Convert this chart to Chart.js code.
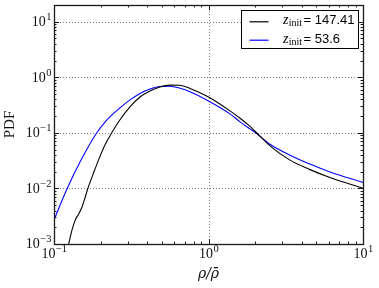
<!DOCTYPE html>
<html>
<head>
<meta charset="utf-8">
<script src="https://cdn.jsdelivr.net/npm/chart.js@4"></script>
<style>
html,body{margin:0;padding:0;background:#fff;}
#wrap{width:379px;height:288px;position:relative;}
</style>
</head>
<body>
<div id="wrap"><canvas id="c"></canvas></div>
<script>
// ---- data ----
const rhoBlack = [0.1245, 0.1308, 0.1374, 0.1445, 0.1518, 0.1594, 0.1652, 0.1807, 0.1994, 0.2148, 0.2349, 0.2674, 0.3103, 0.3603, 0.418, 0.4855, 0.5632, 0.654, 0.759, 1.0, 1.378, 1.60, 1.856, 2.0, 2.50, 3.37, 4.54, 6.11, 10];
const pdfBlack = [0.00101, 0.00179, 0.00272, 0.00348, 0.00464, 0.00702, 0.00975, 0.0193, 0.0389, 0.0625, 0.0972, 0.172, 0.294, 0.443, 0.568, 0.670, 0.724, 0.719, 0.630, 0.443, 0.249, 0.183, 0.131, 0.107, 0.0585, 0.0323, 0.0218, 0.0157, 0.01005];
const rhoBlue = [0.100, 0.1213, 0.1473, 0.1878, 0.2171, 0.2674, 0.3103, 0.3603, 0.418, 0.4855, 0.5632, 0.654, 0.759, 1.0, 1.378, 1.60, 1.856, 2.0, 2.50, 3.37, 4.54, 6.11, 10];
const pdfBlue = [0.00272, 0.00975, 0.0298, 0.0972, 0.165, 0.282, 0.392, 0.513, 0.617, 0.684, 0.690, 0.635, 0.552, 0.376, 0.220, 0.158, 0.118, 0.1025, 0.0625, 0.0397, 0.0274, 0.0197, 0.01285];
const zInit = [147.41, 53.6];
const seriesColors = ['#000000', '#0000ff'];
const xTickValues = [0.1, 1, 10];
const yTickValues = [0.001, 0.01, 0.1, 1, 10];
const xLimits = [0.1, 10];
const yLimits = [0.001, 20];
const xTitle = 'ρ/ρ̄';
const yTitle = 'PDF';

const toPts = (xs, ys) => xs.map((x, i) => ({x: x, y: ys[i]}));

function minorValues(lo, hi) {
  const out = [];
  for (let e = Math.floor(Math.log10(lo)); e <= Math.ceil(Math.log10(hi)); e++) {
    for (let k = 2; k <= 9; k++) {
      const v = k * Math.pow(10, e);
      if (v > lo * 1.0001 && v < hi * 0.9999) out.push(v);
    }
  }
  return out;
}

function expText(v) {
  const e = Math.round(Math.log10(v));
  return (e < 0 ? '−' : '') + Math.abs(e);
}

const MAIN_FONT = '14px "Liberation Serif", "DejaVu Serif", serif';
const EXP_FONT = '10.5px "Liberation Serif", "DejaVu Serif", serif';

const framePlugin = {
  id: 'frame',
  beforeDatasetsDraw(chart) {
    const {ctx, chartArea: a, scales: {x, y}} = chart;
    ctx.save();
    ctx.strokeStyle = 'rgba(0,0,0,0.5)';
    ctx.lineWidth = 1;
    ctx.setLineDash([1, 2]);
    xTickValues.forEach(v => {
      const p = Math.round(x.getPixelForValue(v)) + 0.5;
      ctx.beginPath(); ctx.moveTo(p, a.top); ctx.lineTo(p, a.bottom); ctx.stroke();
    });
    yTickValues.forEach(v => {
      const p = Math.round(y.getPixelForValue(v)) + 0.5;
      ctx.beginPath(); ctx.moveTo(a.left, p); ctx.lineTo(a.right, p); ctx.stroke();
    });
    ctx.restore();
  },
  afterDatasetsDraw(chart) {
    const {ctx, chartArea: a, scales: {x, y}} = chart;
    ctx.save();
    ctx.strokeStyle = '#1a1a1a';
    ctx.lineWidth = 1;
    const tick = (vals, len, isX) => {
      vals.forEach(v => {
        if (isX) {
          const p = Math.round(x.getPixelForValue(v)) + 0.5;
          ctx.beginPath(); ctx.moveTo(p, a.bottom); ctx.lineTo(p, a.bottom - len); ctx.stroke();
          ctx.beginPath(); ctx.moveTo(p, a.top); ctx.lineTo(p, a.top + len); ctx.stroke();
        } else {
          const p = Math.round(y.getPixelForValue(v)) + 0.5;
          ctx.beginPath(); ctx.moveTo(a.left, p); ctx.lineTo(a.left + len, p); ctx.stroke();
          ctx.beginPath(); ctx.moveTo(a.right, p); ctx.lineTo(a.right - len, p); ctx.stroke();
        }
      });
    };
    tick(xTickValues, 5, true);
    tick(minorValues(xLimits[0], xLimits[1]), 2.5, true);
    tick(yTickValues, 5, false);
    tick(minorValues(yLimits[0], yLimits[1]), 2.5, false);
    ctx.lineWidth = 1.3;
    ctx.strokeRect(Math.round(a.left) + 0.5, Math.round(a.top) + 0.5,
                   Math.round(a.right) - Math.round(a.left), Math.round(a.bottom) - Math.round(a.top));
    ctx.restore();
  },
  afterDraw(chart) {
    const {ctx, chartArea: a, scales: {x, y}} = chart;
    ctx.save();
    ctx.fillStyle = '#111';
    ctx.textBaseline = 'alphabetic';
    ctx.textAlign = 'left';
    // x tick labels
    x.ticks.forEach(t => {
      const p = x.getPixelForValue(t.value);
      ctx.font = MAIN_FONT; const w1 = ctx.measureText('10').width;
      ctx.font = EXP_FONT; const ex = expText(t.value); const w2 = ctx.measureText(ex).width;
      const x0 = p - (w1 + w2) / 2;
      const base = a.bottom + 14.2;
      ctx.font = MAIN_FONT; ctx.fillText('10', x0, base);
      ctx.font = EXP_FONT; ctx.fillText(ex, x0 + w1 + 0.5, base - 6);
    });
    // y tick labels
    y.ticks.forEach(t => {
      const p = y.getPixelForValue(t.value);
      ctx.font = MAIN_FONT; const w1 = ctx.measureText('10').width;
      ctx.font = EXP_FONT; const ex = expText(t.value); const w2 = ctx.measureText(ex).width;
      const right = a.left - 2.5;
      const x0 = right - w2 - 0.5 - w1;
      const base = p + 4.4;
      ctx.font = MAIN_FONT; ctx.fillText('10', x0, base);
      ctx.font = EXP_FONT; ctx.fillText(ex, x0 + w1 + 0.5, base - 6);
    });
    // legend
    const bw = 117, bh = 38;
    const bx = Math.round(a.right - 5 - bw) + 0.5, by = Math.round(a.top + 5) + 0.5;
    ctx.fillStyle = '#fff';
    ctx.fillRect(bx, by, bw, bh);
    ctx.strokeStyle = '#000';
    ctx.lineWidth = 1;
    ctx.strokeRect(bx, by, bw, bh);
    chart.data.datasets.forEach((ds, i) => {
      const ly = by + 11.3 + i * 18.4;
      ctx.strokeStyle = ds.borderColor;
      ctx.lineWidth = 1.2;
      ctx.beginPath(); ctx.moveTo(bx + 8, ly); ctx.lineTo(bx + 27, ly); ctx.stroke();
      const base = by + 13.7 + i * 18.4;
      ctx.fillStyle = '#000';
      ctx.font = 'italic 14px "Liberation Serif", "DejaVu Serif", serif';
      let cx = bx + 41.5;
      ctx.fillText('z', cx, base);
      cx += ctx.measureText('z').width + 0.3;
      ctx.font = '10px "Liberation Serif", "DejaVu Serif", serif';
      ctx.fillText('init', cx, base + 2);
      ctx.font = '13px "Liberation Sans", Arial, sans-serif';
      ctx.fillText('= ' + zInit[i], bx + 62, base);
    });
    ctx.restore();
  }
};

new Chart(document.getElementById('c'), {
  type: 'line',
  data: {
    datasets: [
      { label: 'z_init = ' + zInit[0], data: toPts(rhoBlack, pdfBlack), borderColor: seriesColors[0],
        borderWidth: 1.1, pointRadius: 0, fill: false, cubicInterpolationMode: 'monotone' },
      { label: 'z_init = ' + zInit[1], data: toPts(rhoBlue, pdfBlue), borderColor: seriesColors[1],
        borderWidth: 1.1, pointRadius: 0, fill: false, cubicInterpolationMode: 'monotone' }
    ]
  },
  options: {
    responsive: true,
    maintainAspectRatio: false,
    animation: false,
    devicePixelRatio: 1,
    layout: { padding: { left: 0, right: 16, top: 5, bottom: 0 } },
    plugins: { legend: { display: false }, tooltip: { enabled: false } },
    scales: {
      x: {
        type: 'logarithmic', min: xLimits[0], max: xLimits[1],
        afterBuildTicks: s => { s.ticks = xTickValues.map(v => ({ value: v })); },
        afterFit: s => { s.height = 44; },
        ticks: { display: false },
        grid: { display: false, drawTicks: false },
        border: { display: false },
        title: { display: true, text: xTitle, color: '#111',
                 font: { family: '"DejaVu Serif", "Liberation Serif", serif', size: 14, style: 'italic' },
                 padding: { top: 0, bottom: 5 } }
      },
      y: {
        type: 'logarithmic', min: yLimits[0], max: yLimits[1],
        afterBuildTicks: s => { s.ticks = yTickValues.map(v => ({ value: v })); },
        afterFit: s => { s.width = 54; },
        ticks: { display: false },
        grid: { display: false, drawTicks: false },
        border: { display: false },
        title: { display: true, text: yTitle, color: '#111',
                 font: { family: '"Liberation Serif", "DejaVu Serif", serif', size: 15 },
                 padding: { top: 1, bottom: 0 } }
      }
    }
  },
  plugins: [framePlugin]
});
</script>
</body>
</html>
